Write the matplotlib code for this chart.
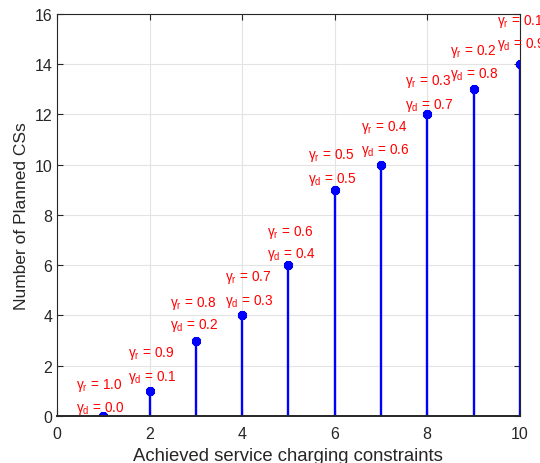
import matplotlib
matplotlib.use('Agg')
import matplotlib.pyplot as plt

plt.rcParams['font.family'] = 'Liberation Sans'
plt.rcParams['mathtext.fontset'] = 'custom'
plt.rcParams['mathtext.rm'] = 'Liberation Sans'
plt.rcParams['mathtext.it'] = 'Liberation Sans'

# data
constraints = [1, 2, 3, 4, 5, 6, 7, 8, 9, 10]
planned_css = [0, 1, 3, 4, 6, 9, 10, 12, 13, 14]
gamma_r = ['1.0', '0.9', '0.8', '0.7', '0.6', '0.5', '0.4', '0.3', '0.2', '0.1']
gamma_d = ['0.0', '0.1', '0.2', '0.3', '0.4', '0.5', '0.6', '0.7', '0.8', '0.9']

# label offsets relative to each stem (as placed in the original)
lab_dx = [-0.58, -0.46, -0.56, -0.37, -0.46, -0.57, -0.43, -0.48, -0.51, -0.5]
r_dy = [1.27, 1.51, 1.53, 1.57, 1.34, 1.4, 1.54, 1.36, 1.55, 1.75]
d_dy = [0.35, 0.57, 0.63, 0.6, 0.45, 0.44, 0.61, 0.39, 0.63, 0.82]

fig = plt.figure(figsize=(5.4, 4.64), dpi=100)
ax = fig.add_axes([0.1056, 0.1013, 0.857, 0.8664])

ax.grid(True, color='#e3e3e3', linewidth=0.8)
ax.set_axisbelow(True)

ml, sl, bl = ax.stem(constraints, planned_css, basefmt=' ')
plt.setp(sl, color='#0000ff', linewidth=1.7)
plt.setp(ml, color='#0000ff', marker=(8, 2, 0), markersize=6.5, markeredgewidth=2.4)

for i in range(len(constraints)):
    ax.text(constraints[i] + lab_dx[i], planned_css[i] + r_dy[i],
            r'γ$_\mathrm{r}$ = ' + gamma_r[i], color='#ff0000',
            fontsize=9.8, ha='left', va='center', clip_on=False)
    ax.text(constraints[i] + lab_dx[i], planned_css[i] + d_dy[i],
            r'γ$_\mathrm{d}$ = ' + gamma_d[i], color='#ff0000',
            fontsize=9.8, ha='left', va='center', clip_on=False)

ax.set_xlim(0, 10)
ax.set_ylim(0, 16)
ax.set_xticks(range(0, 11, 2))
ax.set_yticks(range(0, 17, 2))
ax.tick_params(direction='in', top=True, right=True, length=4, width=0.8,
               colors='#262626', labelsize=11.5)
ax.tick_params(axis='x', pad=7.5)
for s in ax.spines.values():
    s.set_color('#262626')
    s.set_linewidth(0.8)
ax.spines['bottom'].set_linewidth(1.4)

ax.set_xlabel('Achieved service charging constraints', fontsize=13.3, color='#262626', labelpad=4)
ax.set_ylabel('Number of Planned CSs', fontsize=12.5, color='#262626', labelpad=4)

fig.savefig('out.png', dpi=100)
